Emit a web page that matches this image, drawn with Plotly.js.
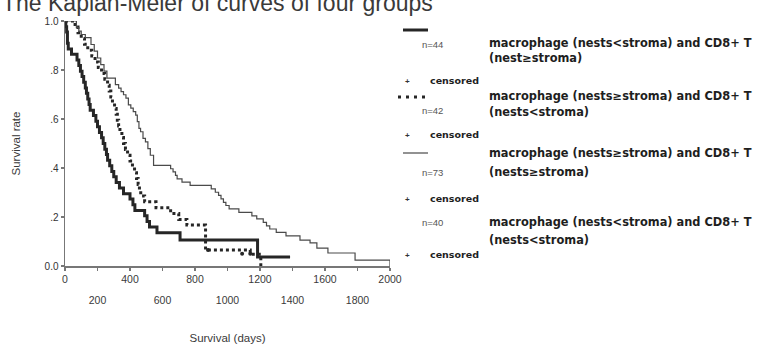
<!DOCTYPE html>
<html>
<head>
<meta charset="utf-8">
<script src="https://cdn.plot.ly/plotly-3.0.1.min.js"></script>
<style>html,body{margin:0;padding:0;background:#fff}#chart{width:768px;height:346px}</style>
</head>
<body>
<div id="chart"></div>
<script>
// ---------- data ----------
const groupLabels = ["n=44", "n=42", "n=73", "n=40"];
const groupLine1 = [
  "macrophage (nests<stroma) and CD8+ T",
  "macrophage (nests≥stroma) and CD8+ T",
  "macrophage (nests≥stroma) and CD8+ T",
  "macrophage (nests<stroma) and CD8+ T"
];
const groupLine2 = ["(nest≥stroma)", "(nests<stroma)", "(nests≥stroma)", "(nests<stroma)"];
const censoredLabel = "censored";

// n=44 (thick solid curve)
const daysA = [0,5,10,15,20,40,74,85,95,105,115,125,132,140,148,155,175,190,200,212,225,235,245,255,262,275,288,300,315,335,360,381,400,418,430,490,505,520,566,708,1185,1385];
const survA = [1.0,0.977,0.955,0.909,0.886,0.864,0.841,0.818,0.795,0.773,0.75,0.727,0.705,0.682,0.659,0.636,0.614,0.591,0.568,0.545,0.523,0.5,0.477,0.455,0.432,0.409,0.386,0.364,0.341,0.318,0.295,0.295,0.273,0.25,0.227,0.205,0.182,0.159,0.136,0.106,0.037,0.037];

// n=42 (dotted curve)
const daysB = [0,62,80,100,120,140,165,185,205,225,245,262,272,282,292,305,315,322,330,338,350,360,372,385,400,415,428,440,450,458,466,490,560,650,700,750,865,1140,1205];
const survB = [1.0,0.976,0.952,0.929,0.905,0.881,0.857,0.833,0.81,0.786,0.762,0.738,0.714,0.69,0.667,0.643,0.619,0.595,0.571,0.548,0.524,0.5,0.476,0.452,0.429,0.405,0.381,0.357,0.333,0.31,0.286,0.262,0.238,0.214,0.19,0.167,0.065,0.048,0.0];

// n=73 (thin curve)
const daysC = [0,62,70,85,100,125,160,180,200,220,240,258,310,330,345,360,375,390,405,420,435,445,455,465,480,495,510,525,545,650,665,680,690,720,770,900,925,945,960,975,990,1010,1070,1150,1180,1220,1240,1260,1300,1360,1446,1508,1550,1618,1785,1980,2000];
const survC = [1.0,1.0,0.973,0.959,0.945,0.932,0.904,0.877,0.849,0.822,0.795,0.767,0.74,0.726,0.712,0.699,0.685,0.658,0.644,0.63,0.616,0.589,0.562,0.548,0.521,0.507,0.479,0.452,0.411,0.397,0.384,0.37,0.356,0.342,0.329,0.315,0.301,0.288,0.274,0.26,0.247,0.233,0.219,0.205,0.192,0.178,0.164,0.151,0.137,0.123,0.106,0.094,0.073,0.053,0.024,0.024,0.0];

// censored marks visible on the dotted group
const censDaysB = [880, 1090, 1140];
const censSurvB = [0.065, 0.05, 0.05];

// axis ticks
const yTickVals = [0, 0.2, 0.4, 0.6, 0.8, 1.0];
const yTickText = ["0.0", ".2", ".4", ".6", ".8", "1.0"];
const xTickUpper = [0, 400, 800, 1200, 1600, 2000];
const xTickLower = [200, 600, 1000, 1400, 1800];
const xAllTicks = [0,200,400,600,800,1000,1200,1400,1600,1800,2000];

// ---------- layout helpers (pixel -> paper) ----------
const L = 65, R = 390, T = 21, B = 266;
const px = x => (x - L) / (R - L);
const py = y => (B - y) / (B - T);

const dark = "#262626";
const traces = [
  {x: daysA, y: survA, type: "scatter", mode: "lines", line: {shape: "hv", color: dark, width: 3}, cliponaxis: false, hoverinfo: "skip"},
  {x: daysB, y: survB, type: "scatter", mode: "lines", line: {shape: "hv", color: dark, width: 3, dash: "dot"}, cliponaxis: false, hoverinfo: "skip"},
  {x: daysC, y: survC, type: "scatter", mode: "lines", line: {shape: "hv", color: "#4a4a4a", width: 1.2}, cliponaxis: false, hoverinfo: "skip"},
  {x: censDaysB, y: censSurvB, xaxis: "x2", type: "scatter", mode: "markers", marker: {color: dark, size: 4}, cliponaxis: false, hoverinfo: "skip"}
];

const fontBase = "Liberation Sans, Arial, sans-serif";
const fontLegend = "DejaVu Sans, Liberation Sans, sans-serif";
const ann = [];
const shapes = [];

// title (top partly cut off, as in the reference)
ann.push({xref: "paper", yref: "paper", x: px(0), y: py(18), xanchor: "left", yanchor: "bottom",
  text: "The Kaplan-Meier of curves of four groups", showarrow: false,
  font: {family: fontBase, size: 23, color: "#3a3a3a"}});

// legend rows (pixel y positions)
const rowN = [44, 111, 172, 222];
const rowL1 = [43, 96, 153, 222];
const rowL2 = [58, 112, 172, 240];
const rowC = [80, 134, 198, 254];
for (let i = 0; i < 4; i++) {
  ann.push({xref: "paper", yref: "paper", x: px(420), y: py(rowN[i]), xanchor: "left", yanchor: "middle",
    text: groupLabels[i], showarrow: false, font: {family: fontBase, size: 9.5, color: "#555"}});
  ann.push({xref: "paper", yref: "paper", x: px(487), y: py(rowL1[i]), xanchor: "left", yanchor: "middle",
    text: "<b>" + groupLine1[i].replace(/</g, "&lt;") + "</b>", showarrow: false, font: {family: fontLegend, size: 11.4, color: "#1e1e1e"}});
  ann.push({xref: "paper", yref: "paper", x: px(487), y: py(rowL2[i]), xanchor: "left", yanchor: "middle",
    text: "<b>" + groupLine2[i].replace(/</g, "&lt;") + "</b>", showarrow: false, font: {family: fontLegend, size: 11.4, color: "#1e1e1e"}});
  ann.push({xref: "paper", yref: "paper", x: px(407), y: py(rowC[i] + 1), xanchor: "center", yanchor: "middle",
    text: "<b>+</b>", showarrow: false, font: {family: fontBase, size: 8, color: "#333"}});
  ann.push({xref: "paper", yref: "paper", x: px(428), y: py(rowC[i]), xanchor: "left", yanchor: "middle",
    text: "<b>" + censoredLabel + "</b>", showarrow: false, font: {family: fontLegend, size: 9.5, color: "#1e1e1e"}});
}
// legend line samples
shapes.push({type: "line", xref: "paper", yref: "paper", x0: px(403), x1: px(428), y0: py(30), y1: py(30), line: {color: dark, width: 3}});
shapes.push({type: "line", xref: "paper", yref: "paper", x0: px(398), x1: px(430), y0: py(97), y1: py(97), line: {color: dark, width: 3, dash: "3px,5px"}});
shapes.push({type: "line", xref: "paper", yref: "paper", x0: px(403), x1: px(428), y0: py(153), y1: py(153), line: {color: "#4a4a4a", width: 1.2}});

const layout = {
  width: 768, height: 346,
  margin: {l: L, r: 768 - R, t: T, b: 346 - B, pad: 0},
  paper_bgcolor: "#fff", plot_bgcolor: "#fff",
  showlegend: false,
  font: {family: fontBase, color: "#3a3a3a"},
  xaxis: {
    range: [0, 2000], tickmode: "array", tickvals: xAllTicks,
    ticktext: xAllTicks.map(v => xTickUpper.includes(v) ? String(v) : ""),
    ticks: "outside", ticklen: 3, tickcolor: "#777", tickwidth: 1.5,
    showline: true, linecolor: "#777", linewidth: 1.5, showgrid: false, zeroline: false,
    tickfont: {size: 10.5, color: "#3a3a3a"},
    title: {text: "Survival (days)", font: {size: 11.5, color: "#3a3a3a"}, standoff: 50}
  },
  xaxis2: {
    overlaying: "x", matches: "x", anchor: "y", side: "bottom",
    range: [0, 2000], tickmode: "array", tickvals: xTickLower, ticktext: xTickLower.map(String),
    ticks: "", showline: false, showgrid: false, zeroline: false,
    ticklabelstandoff: 26, tickfont: {size: 10.5, color: "#3a3a3a"}
  },
  yaxis: {
    range: [0, 1.0], tickmode: "array", tickvals: yTickVals, ticktext: yTickText,
    ticks: "outside", ticklen: 3, tickcolor: "#777", tickwidth: 1.5,
    showline: true, linecolor: "#777", linewidth: 1.5, showgrid: false, zeroline: false,
    tickfont: {size: 10, color: "#333"},
    title: {text: "Survival rate", font: {size: 11.5, color: "#3a3a3a"}, standoff: 21}
  },
  annotations: ann,
  shapes: shapes
};

Plotly.newPlot("chart", traces, layout, {staticPlot: true, displayModeBar: false});
</script>
</body>
</html>
